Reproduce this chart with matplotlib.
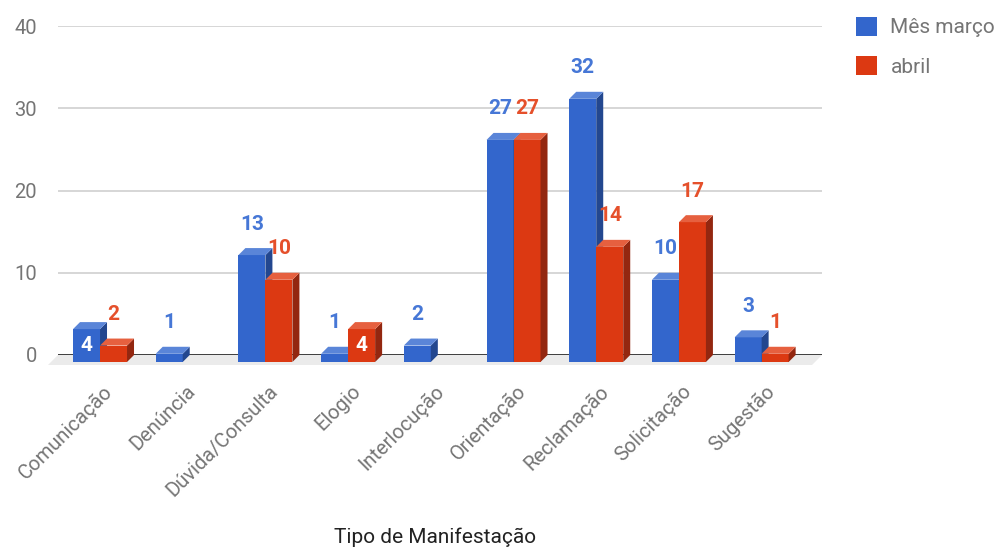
import matplotlib
matplotlib.use("Agg")
import matplotlib.pyplot as plt
from matplotlib.patches import Polygon, Patch
from matplotlib.transforms import ScaledTranslation

plt.rcParams['font.family'] = ['Roboto', 'DejaVu Sans']

# ---- data ----
categories = ["Comunicação", "Denúncia", "Dúvida/Consulta", "Elogio", "Interlocução",
              "Orientação", "Reclamação", "Solicitação", "Sugestão"]
marco = [4, 1, 13, 1, 2, 27, 32, 10, 3]
abril = [2, None, 10, 4, None, 27, 14, 17, 1]
series_names = ["Mês março", "abril"]
yticks = [0, 10, 20, 30, 40]
x_title = "Tipo de Manifestação"
# labels Google drew inside the bar (white)
inside_marco = ["Comunicação"]
inside_abril = ["Elogio"]

# ---- style ----
front = ["#3366cc", "#dc3912"]
top_c = ["#5a85d8", "#e6603f"]
side_c = ["#23478f", "#932710"]
label_c = ["#4677d6", "#e5502b"]
gray = "#757575"

W, H = 999, 547
fig = plt.figure(figsize=(W / 100, H / 100), dpi=100)
ax = fig.add_axes([58 / W, (H - 355) / H, 764 / W, 329 / H])
ax.set_xlim(-0.508, 8.73)
ax.set_ylim(0, 40)
for s in ax.spines.values():
    s.set_visible(False)

# pixel -> data scales
p0 = ax.transData.transform((0, 0))
p1 = ax.transData.transform((1, 1))
pxx = p1[0] - p0[0]
pxy = p1[1] - p0[1]
ddx = 7 / pxx   # depth offset in x data units
ddy = 7 / pxy   # depth offset in y data units
fdx = 10 / pxx
fdy = 10 / pxy

bw = 27 / pxx

# floor
xl, xr = ax.get_xlim()
floor = Polygon([(xl, 0), (xr, 0), (xr - fdx, -fdy), (xl - fdx, -fdy)],
                closed=True, facecolor="#ebebeb", edgecolor="none",
                clip_on=False, zorder=1)
ax.add_patch(floor)

ax.set_yticks(yticks)
ax.yaxis.grid(True, color="#cccccc", lw=1.1, zorder=1.5)
ax.set_axisbelow(True)
ax.axhline(0, color="#333333", lw=1.3, zorder=2)

z = 3
for i, cat in enumerate(categories):
    for s, vals in enumerate([marco, abril]):
        v = vals[i]
        if v is None:
            continue
        x0 = i - bw if s == 0 else i
        bars = ax.bar(x0, v, width=bw, bottom=-ddy, align="edge",
                      color=front[s], edgecolor="none", clip_on=False, zorder=z)
        r = bars[0]
        bx, by, bwid, bh = r.get_x(), r.get_y(), r.get_width(), r.get_height()
        ytop = by + bh
        top = Polygon([(bx, ytop), (bx + bwid, ytop), (bx + bwid + ddx, ytop + ddy),
                       (bx + ddx, ytop + ddy)], closed=True, facecolor=top_c[s],
                      edgecolor="none", clip_on=False, zorder=z)
        side = Polygon([(bx + bwid, by), (bx + bwid + ddx, by + ddy),
                        (bx + bwid + ddx, ytop + ddy), (bx + bwid, ytop)], closed=True,
                       facecolor=side_c[s], edgecolor="none", clip_on=False, zorder=z)
        ax.add_patch(side)
        ax.add_patch(top)
        z += 0.01
        inside = (cat in inside_marco) if s == 0 else (cat in inside_abril)
        cx = bx + bwid / 2
        if inside:
            ax.annotate(str(v), xy=(cx, by + bh / 2), ha="center", va="center",
                        fontsize=15, fontweight="bold", color="white", zorder=z + 1,
                        annotation_clip=False)
        else:
            ax.annotate(str(v), xy=(cx, ytop), xytext=(0, 31),
                        textcoords="offset pixels", ha="center", va="center",
                        fontsize=15, fontweight="bold", color=label_c[s], zorder=20,
                        annotation_clip=False)

ax.set_xticks(range(len(categories)))
ax.set_xticklabels(categories, rotation=45, ha="right", va="center",
                   rotation_mode="anchor", fontsize=14.5, color=gray)
ax.tick_params(axis="x", length=0, pad=24)
for lab in ax.get_xticklabels():
    lab.set_transform(lab.get_transform() + ScaledTranslation(10 / 100, 0, fig.dpi_scale_trans))
ax.tick_params(axis="y", length=0, pad=15, labelsize=14.5, labelcolor=gray)

fig.text(435 / W, 1 - 537 / H, x_title, ha="center", va="center",
         fontsize=15, color="#222222")

handles = [Patch(facecolor=front[0], edgecolor="none"),
           Patch(facecolor=front[1], edgecolor="none")]
fig.legend(handles, series_names, loc="upper left",
           bbox_to_anchor=(856 / W, 1 - 17 / H), frameon=False,
           borderaxespad=0, borderpad=0, fontsize=15, labelcolor=gray,
           handlelength=1.0, handleheight=1.0, handletextpad=0.65,
           labelspacing=0.9)

fig.savefig("out.png", dpi=100)
